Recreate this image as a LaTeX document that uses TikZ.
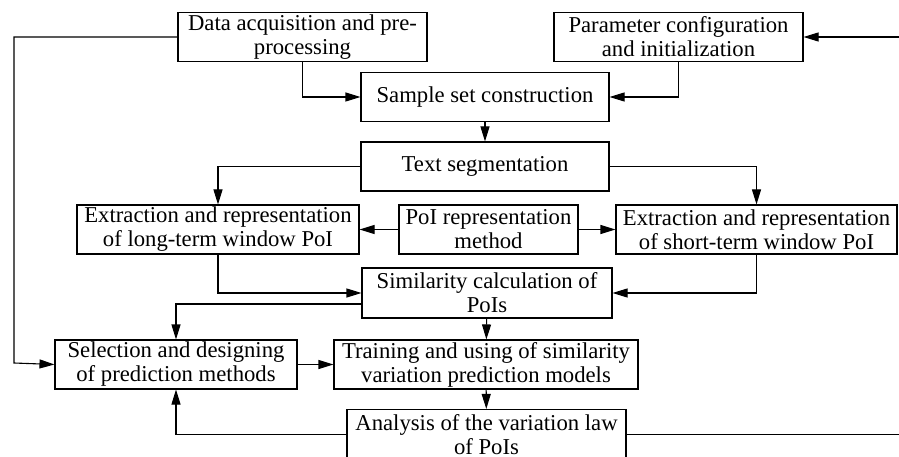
\documentclass[tikz,border=0pt]{standalone}
\usepackage{fontspec}
\setmainfont{Liberation Serif}
\usetikzlibrary{arrows.meta}

\tikzset{
  box/.style={draw, inner sep=0pt, align=center, minimum height=49pt},
  arr/.style={-{Triangle[length=15pt,width=9pt]}},
}

\begin{document}
\begin{tikzpicture}[x=1pt,y=-1pt,line width=1.1pt,font=\fontsize{22.7}{24}\selectfont]
 \useasboundingbox (0,0) rectangle (899,457);

% Top row
 \node[box,minimum width=249pt] (data) at (302.5,37) {Data acquisition and pre-\\processing};
 \node[box,minimum width=249pt] (param) at (678.5,37) {Parameter configuration\\and initialization};
 \node[box,minimum width=248pt] (sample) at (485,97) {Sample set construction};
 \node[box,minimum width=248pt] (text) at (485,166.5) {Text segmentation};

% PoI row
 \node[box,minimum width=282pt] (long) at (218,229.5) {Extraction and representation\\of long-term window PoI};
 \node[box,minimum width=179pt] (poi) at (488.5,229.5) {PoI representation\\method};
 \node[box,minimum width=281pt] (short) at (756.5,229.5) {Extraction and representation\\of short-term window PoI};
 \node[box,minimum width=250pt,minimum height=50pt] (sim) at (487,293) {Similarity calculation of\\PoIs};

% Prediction row
 \node[box,minimum width=242pt] (sel) at (176,364.5) {Selection and designing\\of prediction methods};
 \node[box,minimum width=304pt] (train) at (486,364.5) {Training and using of similarity\\variation prediction models};
 \node[box,minimum width=279pt,minimum height=50pt] (anal) at (486.5,434.5) {Analysis of the variation law\\of PoIs};

% Free ends at the left and right edges
 \coordinate (lft) at (14,363);
 \coordinate (rtop) at (899,37);
 \coordinate (rbot) at (899,434.5);

 \draw[arr] (data.south) |- (sample.west);
 \draw[arr] (param.south) |- (sample.east);
 \draw[arr] (sample) -- (text);
 \draw[arr] (text.west) -| (long.north);
 \draw[arr] (text.east) -| (short.north);
 \draw[arr] (poi.west) -- (long.east);
 \draw[arr] (poi.east) -- (short.west);
 \draw[arr] (long.south) |- (sim.west);
 \draw[arr] (short.south) |- (sim.east);
 \draw[arr] ([yshift=-11pt]sim.west) -| (sel.north);
 \draw[arr] (sim) -- (train);
 \draw[arr] (sel) -- (train);
 \draw[arr] (train) -- (anal);
 \draw[arr] (anal.west) -| (sel.south); % feedback
 \draw[arr] (data.west) -| (lft) -- (sel.west);
 \draw[arr] (rtop) -- (param.east);
 \draw (anal.east) -- (rbot);

\end{tikzpicture}
\end{document}
